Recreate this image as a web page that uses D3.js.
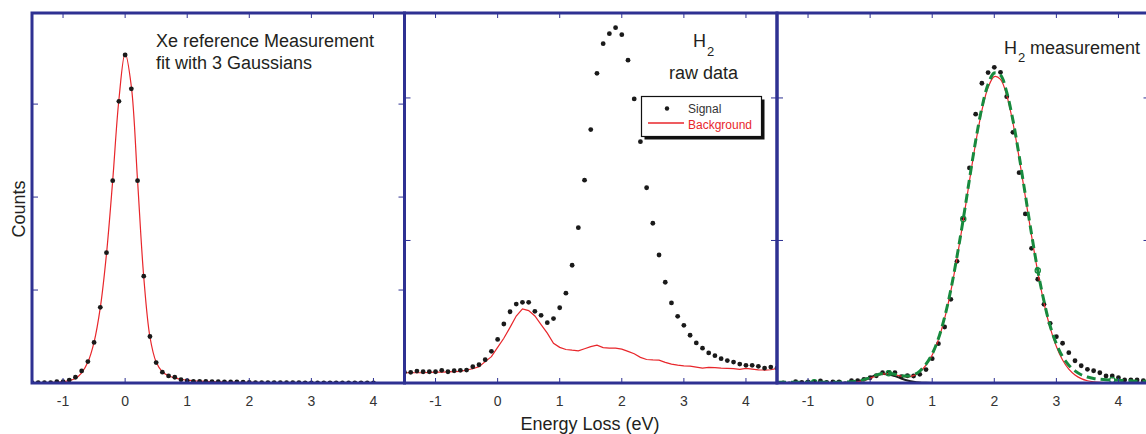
<!DOCTYPE html>
<html>
<head>
<meta charset="utf-8">
<script src="https://cdn.jsdelivr.net/npm/d3@7/dist/d3.min.js"></script>
<style>
body { margin: 0; background: #fff; }
svg text { font-family: "Liberation Sans", Arial, Helvetica, sans-serif; fill: #231f20; }
</style>
</head>
<body>
<div id="chart"></div>
<script>
// energy grid: every series is sampled at 0.1 eV starting from its first energy
var eStep = 0.1
var xTicks = [-1, 0, 1, 2, 3, 4]

// panel 1: Xe reference, starts at -1.5 eV
var xeStart = -1.5
var xePoints = [3, 3, 3, 3, 14, 14, 32, 62, 130, 230,
    436, 814, 1402, 2176, 3030, 3528, 3164, 2176, 1149, 500,
    220, 116, 76, 62, 36, 25, 18, 17, 17, 15,
    14, 13, 12, 11, 10, 6, 4, 4, 3, 3,
    3, 3, 3, 3, 2, 2, 2, 2, 2, 2,
    2, 2, 2, 2, 2, 2]
var xeFit = [2, 3, 4, 6, 9, 14, 25, 50, 110, 225,
    440, 810, 1390, 2180, 3050, 3545, 3190, 2180, 1140, 495,
    225, 120, 78, 55, 40, 30, 24, 20, 17, 14,
    12, 10, 9, 8, 7, 6, 6, 5, 5, 4,
    4, 4, 4, 3, 3, 3, 3, 3, 3, 2,
    2, 2, 2, 2, 2, 2]

// panel 2: H2 raw data, starts at -1.5 eV
var rawStart = -1.5
var h2Signal = [75, 75, 84, 79, 79, 79, 89, 79, 86, 89,
    91, 114, 128, 163, 222, 306, 414, 500, 554, 566,
    566, 503, 475, 423, 452, 528, 630, 826, 1090, 1423,
    1778, 2173, 2381, 2451, 2493, 2444, 2265, 1993, 1693, 1370,
    1121, 898, 707, 562, 468, 405, 335, 281, 244, 211,
    192, 171, 157, 147, 133, 124, 124, 117, 105, 112,
    105]
var h2Background = [72, 72, 72, 72, 74, 76, 76, 78, 80, 82,
    91, 100, 115, 150, 185, 250, 314, 390, 470, 520,
    508, 470, 410, 350, 278, 250, 235, 230, 226, 240,
    255, 265, 248, 245, 245, 238, 222, 205, 180, 165,
    162, 160, 145, 132, 125, 120, 119, 112, 105, 110,
    108, 105, 103, 101, 96, 103, 98, 92, 91, 93,
    103]

// panel 3: H2 measurement (background removed)
var measStart = -1.4
var h2Points = [0, -7, 9, 5, 7, 7, 14, 5, 7, 7,
    -7, 16, 16, 26, 37, 51, 72, 75, 72, 44,
    51, 49, 61, 94, 171, 276, 393, 587, 854, 1156,
    1509, 1886, 2103, 2178, 2215, 2180, 2009, 1759, 1476, 1186,
    945, 728, 552, 419, 325, 279, 213, 156, 121, 96,
    86, 72, 49, 49, 37, 21, 21, 21, 16]
var fitStart = -1.5
var h2Fit = [0, 0, 0, 0, 0, 0, 0, 0, 0, 0,
    0, 1, 3, 8, 18, 33, 50, 62, 65, 58,
    48, 44, 52, 78, 125, 196, 304, 453, 645, 878,
    1139, 1417, 1684, 1911, 2073, 2150, 2130, 2018, 1826, 1580,
    1307, 1033, 780, 563, 388, 256, 161, 97, 56, 31,
    16, 8, 4, 2, 0, 0, 0, 0, 0, 0,
    0]
var h2Total = [5, 5, 5, 5, 5, 5, 6, 6, 6, 6,
    6, 7, 9, 14, 24, 38, 55, 66, 68, 61,
    52, 49, 57, 84, 132, 204, 312, 462, 655, 890,
    1150, 1430, 1700, 1930, 2095, 2175, 2160, 2040, 1845, 1595,
    1320, 1045, 790, 575, 400, 275, 185, 125, 85, 58,
    42, 32, 27, 23, 21, 19, 17, 15, 13, 12,
    11]
var h2Peak0 = [0, 0, 0, 0, 0, 0, 0, 0, 0, 0,
    0, 2, 5, 12, 24, 40, 55, 63, 60, 48,
    32, 18, 8, 3, 1, 0, 0, 0, 0, 0,
    0, 0, 0, 0, 0, 0, 0, 0, 0, 0,
    0, 0, 0, 0, 0, 0, 0, 0, 0, 0,
    0, 0, 0, 0, 0, 0, 0, 0, 0, 0,
    0]
var totalMarks = [-0.9, 0.3, 1.5, 2.7, 3.9]

var W = 1146, H = 434
var plotTop = 13, plotBottom = 383
var panelW = 372.5, left0 = 32
var navy = '#2e3192'
var red = '#e8262b'
var green = '#178a3e'

var svg = d3.select('#chart').append('svg').attr('width', W).attr('height', H)

function toXY(arr, start){
    return arr.map(function(v, i){ return [+(start + i * eStep).toFixed(2), v] })
}

function makePanel(i, yMax, yTicks){
    var x0 = left0 + i * panelW
    var x = d3.scaleLinear().domain([-1.5, 4.5]).range([x0, x0 + panelW])
    var y = d3.scaleLinear().domain([0, yMax]).range([plotBottom, plotTop])
    svg.append('clipPath').attr('id', 'clip' + i)
        .append('rect').attr('x', x0).attr('y', plotTop).attr('width', panelW).attr('height', plotBottom - plotTop)
    var g = svg.append('g').attr('clip-path', 'url(#clip' + i + ')')
    return {x: x, y: y, g: g, x0: x0, yTicks: yTicks}
}

function drawFrame(p){
    var t = svg.append('g')
    // x ticks, top and bottom, pointing inward
    xTicks.forEach(function(v){
        t.append('line').attr('x1', p.x(v)).attr('x2', p.x(v)).attr('y1', plotBottom).attr('y2', plotBottom - 5)
            .attr('stroke', navy).attr('stroke-width', 1)
        t.append('line').attr('x1', p.x(v)).attr('x2', p.x(v)).attr('y1', plotTop).attr('y2', plotTop + 5)
            .attr('stroke', navy).attr('stroke-width', 1)
        t.append('text').attr('x', p.x(v)).attr('y', 406).attr('text-anchor', 'middle')
            .attr('font-size', '14px').style('fill', '#333').text(v < 0 ? '-' + Math.abs(v) : v)
    })
    p.yTicks.forEach(function(v){
        t.append('line').attr('x1', p.x0).attr('x2', p.x0 + 6).attr('y1', p.y(v)).attr('y2', p.y(v))
            .attr('stroke', navy).attr('stroke-width', 1)
        t.append('line').attr('x1', p.x0 + panelW).attr('x2', p.x0 + panelW - 6).attr('y1', p.y(v)).attr('y2', p.y(v))
            .attr('stroke', navy).attr('stroke-width', 1)
    })
    t.append('rect').attr('x', p.x0).attr('y', plotTop).attr('width', panelW).attr('height', plotBottom - plotTop)
        .attr('fill', 'none').attr('stroke', navy).attr('stroke-width', 3)
}

function drawLine(p, data, color, width, curve, dash){
    var line = d3.line().x(function(d){ return p.x(d[0]) }).y(function(d){ return p.y(d[1]) }).curve(curve)
    var path = p.g.append('path').datum(data).attr('d', line)
        .attr('fill', 'none').attr('stroke', color).attr('stroke-width', width)
    if (dash) path.attr('stroke-dasharray', dash)
    return path
}

function drawDots(p, data){
    p.g.selectAll(null).data(data).enter().append('circle')
        .attr('cx', function(d){ return p.x(d[0]) })
        .attr('cy', function(d){ return p.y(d[1]) })
        .attr('r', 2.4).attr('fill', '#1a1a1a')
}

// ---- panel 1
var p1 = makePanel(0, 3980, [1000, 2000, 3000])
drawLine(p1, toXY(xeFit, xeStart), red, 1.2, d3.curveCatmullRom)
drawDots(p1, toXY(xePoints, xeStart))

// ---- panel 2
var p2 = makePanel(1, 2596, [1000, 2000])
drawLine(p2, toXY(h2Background, rawStart), red, 1.2, d3.curveLinear)
drawDots(p2, toXY(h2Signal, rawStart))

// ---- panel 3
var p3 = makePanel(2, 2596, [1000, 2000])
drawLine(p3, toXY(h2Peak0, fitStart), '#1f1f1f', 2, d3.curveCatmullRom)
drawDots(p3, toXY(h2Points, measStart))
drawLine(p3, toXY(h2Fit, fitStart), red, 1.2, d3.curveCatmullRom)
drawLine(p3, toXY(h2Total, fitStart), green, 3, d3.curveCatmullRom, '9,5')
var totalXY = toXY(h2Total, fitStart)
p3.g.selectAll(null).data(totalMarks).enter().append('circle')
    .attr('cx', function(d){ return p3.x(d) })
    .attr('cy', function(d){
        var hit = totalXY.find(function(q){ return Math.abs(q[0] - d) < 1e-6 })
        return p3.y(hit[1])
    })
    .attr('r', 2.6).attr('fill', 'none').attr('stroke', green).attr('stroke-width', 1.3)

drawFrame(p1)
drawFrame(p2)
drawFrame(p3)

// ---- annotations
svg.append('text').attr('x', 156).attr('y', 47).attr('font-size', '18px').text('Xe reference Measurement')
svg.append('text').attr('x', 156).attr('y', 68.5).attr('font-size', '18px').text('fit with 3 Gaussians')

svg.append('text').attr('x', 693).attr('y', 47).attr('font-size', '18px').text('H')
svg.append('text').attr('x', 707).attr('y', 56).attr('font-size', '13px').text('2')
svg.append('text').attr('x', 669).attr('y', 78.5).attr('font-size', '18px').text('raw data')

svg.append('text').attr('x', 1004).attr('y', 53.5).attr('font-size', '18px').text('H')
svg.append('text').attr('x', 1018).attr('y', 62).attr('font-size', '13px').text('2')
svg.append('text').attr('x', 1030).attr('y', 53.5).attr('font-size', '18px').text('measurement')

// legend of panel 2
var lg = svg.append('g')
lg.append('rect').attr('x', 644.5).attr('y', 99.5).attr('width', 120).attr('height', 40).attr('fill', '#111')
lg.append('rect').attr('x', 641.5).attr('y', 96.5).attr('width', 120).attr('height', 40)
    .attr('fill', '#fff').attr('stroke', '#111').attr('stroke-width', 1.2)
lg.append('circle').attr('cx', 667).attr('cy', 108.5).attr('r', 2.2).attr('fill', '#1a1a1a')
lg.append('text').attr('x', 688).attr('y', 113).attr('font-size', '12px').style('fill', '#333').text('Signal')
lg.append('line').attr('x1', 648).attr('x2', 684).attr('y1', 123).attr('y2', 123)
    .attr('stroke', red).attr('stroke-width', 1.5)
lg.append('text').attr('x', 688).attr('y', 128.5).attr('font-size', '12px').style('fill', red).text('Background')

// axis titles
svg.append('text').attr('transform', 'translate(25,209) rotate(-90)').attr('text-anchor', 'middle')
    .attr('font-size', '18px').text('Counts')
svg.append('text').attr('x', 590).attr('y', 430).attr('text-anchor', 'middle')
    .attr('font-size', '18px').text('Energy Loss (eV)')
</script>
</body>
</html>
